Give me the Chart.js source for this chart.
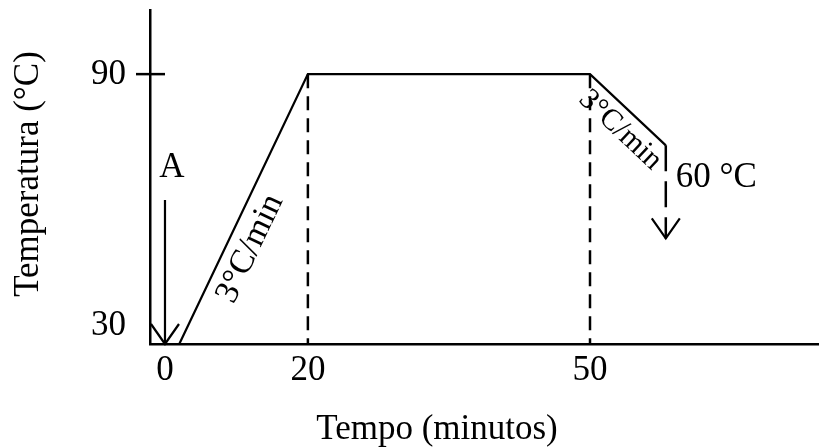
<!DOCTYPE html>
<html>
<head>
<meta charset="utf-8">
<script src="https://cdn.jsdelivr.net/npm/chart.js@4.4.0/dist/chart.umd.min.js"></script>
<style>
  html, body { margin: 0; padding: 0; background: #fff; }
  #chart-profile { display: block; }
</style>
</head>
<body>
<canvas id="chart-profile" width="819" height="448"></canvas>
<script>
const timeTicks = [0, 20, 50];
const tempTicks = [30, 90];

// heating ramp, hold at 90, start of the cooling ramp
const profileTime = [2, 20, 50, 60];
const profileTemp = [30, 90, 90, 77];

// dashed guides under the hold
const guideTimes = [20, 50];
const guideTemp = [90, 30];

// cooling continues down to 60
const coolTime = [60, 60];
const coolTemp = [77, 60];

// addition "A" at time zero
const addTime = [0, 0];
const addTemp = [67, 30];

const rateText = "3°C/min";
const finalText = "60 °C";
const addText = "A";
const xTitle = "Tempo (minutos)";
const yTitle = "Temperatura (°C)";

const FONT = '"Liberation Serif", "Times New Roman", serif';

// the axes are schematic: each break value sits at a fixed share of the axis
const axisStops = {
  x: [[0, 0.0224], [20, 0.236], [50, 0.6577], [60, 0.771]],
  y: [[30, 0], [60, 0.316], [90, 0.808]],
};

function lerpStops(stops, v, from, to) {
  let i = 0;
  while (i < stops.length - 2 && v > stops[i + 1][from]) i++;
  const a = stops[i];
  const b = stops[i + 1];
  return a[to] + ((v - a[from]) * (b[to] - a[to])) / (b[from] - a[from]);
}

class PiecewiseScale extends Chart.LinearScale {
  getPixelForValue(value) {
    if (value === null || value === undefined) return NaN;
    return this.getPixelForDecimal(lerpStops(axisStops[this.id], value, 0, 1));
  }
  getValueForPixel(pixel) {
    return lerpStops(axisStops[this.id], this.getDecimalForPixel(pixel), 1, 0);
  }
}
PiecewiseScale.id = "piecewise";
PiecewiseScale.defaults = Chart.LinearScale.defaults;
Chart.register(PiecewiseScale);

function points(xs, ys) {
  return xs.map((x, i) => ({ x: x, y: ys[i] }));
}

function lineSet(data, extra) {
  return Object.assign(
    {
      data: data,
      borderColor: "#000",
      borderWidth: 2.2,
      pointRadius: 0,
      tension: 0,
      fill: false,
    },
    extra
  );
}

function drawArrowHead(ctx, x, y) {
  ctx.beginPath();
  ctx.moveTo(x - 14, y - 20);
  ctx.lineTo(x, y);
  ctx.lineTo(x + 14, y - 20);
  ctx.stroke();
}

function drawAlong(ctx, p0, p1, t, offset, text) {
  const ang = Math.atan2(p1.y - p0.y, p1.x - p0.x);
  ctx.save();
  ctx.translate(p0.x + (p1.x - p0.x) * t, p0.y + (p1.y - p0.y) * t);
  ctx.rotate(ang);
  ctx.textAlign = "center";
  ctx.textBaseline = "middle";
  ctx.fillText(text, 0, offset);
  ctx.restore();
}

const annotations = {
  id: "annotations",
  afterDatasetsDraw(chart) {
    const ctx = chart.ctx;
    ctx.save();
    ctx.strokeStyle = "#000";
    ctx.lineWidth = 2.2;
    chart.data.datasets.forEach((ds, i) => {
      if (!ds.arrow) return;
      const pts = chart.getDatasetMeta(i).data;
      const tip = pts[pts.length - 1];
      drawArrowHead(ctx, tip.x, tip.y);
    });
    ctx.restore();
  },
  afterDraw(chart) {
    const ctx = chart.ctx;
    const xs = chart.scales.x;
    const ys = chart.scales.y;
    const area = chart.chartArea;
    ctx.save();
    ctx.fillStyle = "#000";
    ctx.strokeStyle = "#000";

    // tick mark crossing the axis at 90
    const y90 = ys.getPixelForValue(tempTicks[1]);
    ctx.lineWidth = 2.5;
    ctx.beginPath();
    ctx.moveTo(area.left - 14, y90);
    ctx.lineTo(area.left + 15, y90);
    ctx.stroke();

    ctx.font = "35px " + FONT;
    ctx.textAlign = "right";
    ctx.textBaseline = "middle";
    ctx.fillText(String(tempTicks[1]), area.left - 24, y90 + 1);
    ctx.fillText(String(tempTicks[0]), area.left - 24, ys.getPixelForValue(tempTicks[0]) - 18);

    // axis titles
    ctx.textAlign = "center";
    ctx.textBaseline = "alphabetic";
    ctx.fillText(xTitle, 437, 439);
    ctx.save();
    ctx.translate(29, 174);
    ctx.rotate(-Math.PI / 2);
    ctx.textBaseline = "middle";
    ctx.fillText(yTitle, 0, 0);
    ctx.restore();

    // "A" above its arrow, final temperature beside the cooling arrow
    ctx.textAlign = "center";
    ctx.textBaseline = "middle";
    ctx.fillText(addText, xs.getPixelForValue(addTime[0]) + 7, ys.getPixelForValue(addTemp[0]) - 32);
    ctx.textAlign = "left";
    ctx.fillText(finalText, xs.getPixelForValue(coolTime[0]) + 10, ys.getPixelForValue(coolTemp[1]) - 61);

    // rate labels along the two ramps
    const prof = chart.getDatasetMeta(0).data;
    ctx.font = "34px " + FONT;
    drawAlong(ctx, prof[0], prof[1], 0.39, 23, rateText);
    ctx.font = "30px " + FONT;
    drawAlong(ctx, prof[2], prof[3], 0.58, 20, rateText);
    ctx.restore();
  },
};

new Chart(document.getElementById("chart-profile"), {
  type: "line",
  data: {
    datasets: [
      lineSet(points(profileTime, profileTemp)),
      ...guideTimes.map((t) =>
        lineSet(points([t, t], guideTemp), { borderDash: [14, 8], borderWidth: 2.5 })
      ),
      lineSet(points(coolTime, coolTemp), { borderDash: [26, 10], borderWidth: 2.5, arrow: true }),
      lineSet(points(addTime, addTemp), { arrow: true }),
    ],
  },
  options: {
    responsive: false,
    animation: false,
    events: [],
    devicePixelRatio: 1,
    layout: { padding: { top: 10, right: 0, left: 0, bottom: 0 } },
    plugins: {
      legend: { display: false },
      tooltip: { enabled: false },
    },
    scales: {
      x: {
        type: "piecewise",
        afterFit: (scale) => {
          scale.width = 819;
          scale.height = 104;
        },
        afterBuildTicks: (scale) => {
          scale.ticks = timeTicks.map((v) => ({ value: v }));
        },
        grid: { display: false, drawTicks: false },
        border: { display: true, color: "#000", width: 2.5 },
        ticks: {
          color: "#000",
          padding: 6,
          font: { family: FONT, size: 35 },
          maxRotation: 0,
          autoSkip: false,
          callback: (value) => String(value),
        },
      },
      y: {
        type: "piecewise",
        afterFit: (scale) => {
          scale.width = 150;
        },
        afterBuildTicks: (scale) => {
          scale.ticks = tempTicks.map((v) => ({ value: v }));
        },
        grid: { display: false, drawTicks: false },
        border: { display: true, color: "#000", width: 2.5 },
        ticks: { display: false },
      },
    },
  },
  plugins: [annotations],
});
</script>
</body>
</html>
